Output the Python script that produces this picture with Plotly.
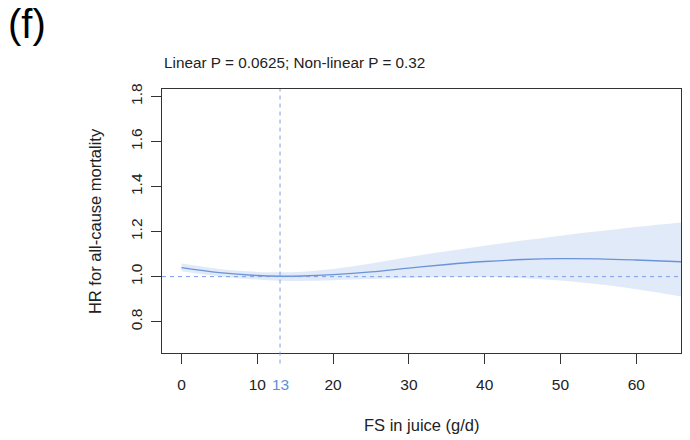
import plotly.graph_objects as go

# Restricted cubic spline: FS in juice (g/d) vs HR for all-cause mortality
fs_g_per_day = [0, 5, 10, 13, 16, 20, 25, 30, 35, 40, 45, 50, 55, 60, 65.9]
hr = [1.040, 1.018, 1.005, 1.002, 1.003, 1.009, 1.021, 1.038, 1.054, 1.067,
      1.076, 1.080, 1.079, 1.074, 1.066]
hr_upper = [1.058, 1.034, 1.021, 1.019, 1.022, 1.034, 1.058, 1.087, 1.113, 1.137,
            1.160, 1.182, 1.201, 1.220, 1.240]
hr_lower = [1.024, 1.001, 0.987, 0.982, 0.981, 0.984, 0.989, 0.994, 0.998, 0.998,
            0.993, 0.983, 0.966, 0.944, 0.912]

reference_fs = 13
reference_hr = 1.0
x_ticks = [0, 10, 20, 30, 40, 50, 60]
y_ticks = [0.8, 1.0, 1.2, 1.4, 1.6, 1.8]
title_text = "Linear P = 0.0625; Non-linear P = 0.32"

LINE = "#6b93d8"
BAND = "rgba(200,216,243,0.55)"
DASH = "#7c9ee2"
INK = "#222222"
FONT = "Liberation Sans, Arial, sans-serif"

fig = go.Figure()

# confidence band
fig.add_trace(go.Scatter(x=fs_g_per_day, y=hr_lower, mode="lines",
                         line=dict(width=0, shape="spline", smoothing=1.0),
                         hoverinfo="skip", showlegend=False))
fig.add_trace(go.Scatter(x=fs_g_per_day, y=hr_upper, mode="lines",
                         line=dict(width=0, shape="spline", smoothing=1.0),
                         fill="tonexty", fillcolor=BAND,
                         hoverinfo="skip", showlegend=False))
# HR curve
fig.add_trace(go.Scatter(x=fs_g_per_day, y=hr, mode="lines",
                         line=dict(color=LINE, width=1.4, shape="spline", smoothing=1.0),
                         showlegend=False))

# reference lines
fig.add_shape(type="line", xref="paper", yref="y", x0=0, x1=1,
              y0=reference_hr, y1=reference_hr,
              line=dict(color=DASH, width=1, dash="4px,4px"))
fig.add_shape(type="line", xref="x", yref="paper", x0=reference_fs, x1=reference_fs,
              y0=-0.04, y1=1, line=dict(color=DASH, width=1, dash="4px,4px"))

axis_common = dict(showline=True, mirror=True, linecolor="#333333", linewidth=1,
                   ticks="outside", ticklen=10, tickcolor="#333333", tickwidth=1,
                   showgrid=False, zeroline=False,
                   tickfont=dict(family=FONT, size=15.5, color=INK))

fig.update_xaxes(range=[-2.57, 65.9], tickvals=x_ticks, ticklabelstandoff=7,
                 **axis_common)
fig.update_yaxes(range=[0.661, 1.833], tickvals=y_ticks, tickformat=".1f",
                 tickangle=-90, ticklabelstandoff=3, **axis_common)

# highlighted reference value on the x axis
fig.add_annotation(x=reference_fs, xref="x", y=-0.12, yref="paper",
                   text=str(reference_fs), showarrow=False, yanchor="middle",
                   font=dict(family=FONT, size=15.5, color="#5b8fd9"))

fig.add_annotation(x=0, xref="paper", y=1.102, yref="paper", text=title_text,
                   showarrow=False, xanchor="left", yanchor="middle",
                   font=dict(family=FONT, size=15.3, color=INK))
fig.add_annotation(x=-0.26, xref="paper", y=1.245, yref="paper", text="(f)",
                   showarrow=False, xanchor="center", yanchor="middle",
                   font=dict(family=FONT, size=40, color="#000000"))
fig.add_annotation(x=-0.129, xref="paper", y=0.5, yref="paper",
                   text="HR for all-cause mortality", textangle=-90,
                   showarrow=False, xanchor="center", yanchor="middle",
                   font=dict(family=FONT, size=16.5, color=INK))
fig.add_annotation(x=0.5, xref="paper", y=-0.274, yref="paper",
                   text="FS in juice (g/d)", showarrow=False,
                   xanchor="center", yanchor="middle",
                   font=dict(family=FONT, size=16.5, color=INK))

fig.update_layout(width=690, height=440, paper_bgcolor="white", plot_bgcolor="white",
                  margin=dict(l=162, r=8.7, t=89, b=87.3), showlegend=False)

fig.write_html("out.html")
